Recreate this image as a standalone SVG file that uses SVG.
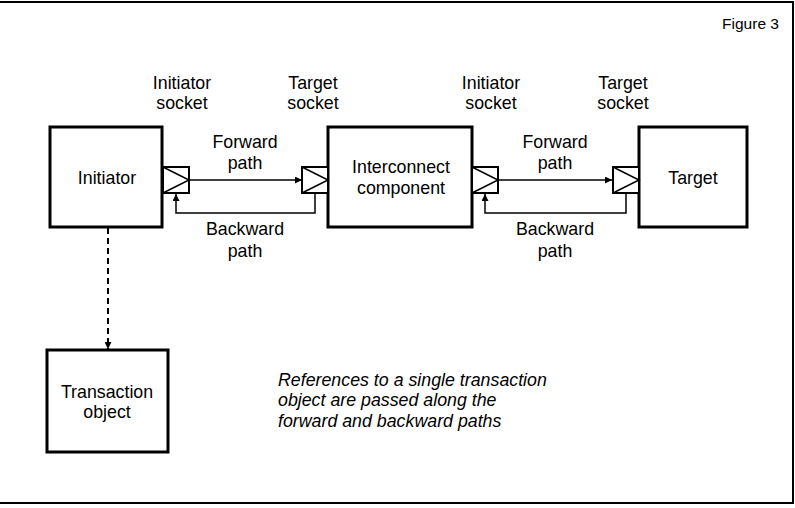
<svg xmlns="http://www.w3.org/2000/svg" width="795" height="508" viewBox="0 0 795 508">
<defs>
<style>
.box{fill:#fff;stroke:#000;stroke-width:3}
.sock{fill:#fff;stroke:#000;stroke-width:2}
.tri{fill:none;stroke:#000;stroke-width:1.5}
.ln{fill:none;stroke:#000;stroke-width:1.5}
.t{font-family:"Liberation Sans",Arial,sans-serif;font-size:17.8px;fill:#000;text-anchor:middle}
.it{font-family:"Liberation Sans",Arial,sans-serif;font-size:17.8px;font-style:italic;fill:#000}
</style>
<marker id="ah" viewBox="0 0 10 10" refX="10" refY="5" markerWidth="7" markerHeight="7" markerUnits="userSpaceOnUse" orient="auto">
<path d="M0,0 L10,5 L0,10 z" fill="#000"/>
</marker>
</defs>
<rect width="795" height="508" fill="#fff"/>
<path d="M0,2 H793 V503 H0" fill="none" stroke="#000" stroke-width="2"/>
<text x="779" y="29" font-family="Liberation Sans,Arial,sans-serif" font-size="14" text-anchor="end" textLength="57" lengthAdjust="spacingAndGlyphs">Figure 3</text>

<g id="connectors">
<path class="ln" d="M189,180 H302" marker-end="url(#ah)"/>
<path class="ln" d="M315,193 V213 H176 V194" marker-end="url(#ah)"/>
<path class="ln" d="M498,180 H612" marker-end="url(#ah)"/>
<path class="ln" d="M626,193 V213 H485 V194" marker-end="url(#ah)"/>
<path d="M108,228 V349" fill="none" stroke="#000" stroke-width="2" stroke-dasharray="6,4" marker-end="url(#ah)"/>
</g>

<g id="initiator">
<rect class="box" x="50" y="127" width="112" height="100"/>
<text class="t" x="107" y="184">Initiator</text>
</g>
<g id="interconnect">
<rect class="box" x="328" y="127" width="144" height="100"/>
<text class="t" x="401" y="173">Interconnect</text>
<text class="t" x="401" y="194">component</text>
</g>
<g id="target">
<rect class="box" x="639" y="127" width="108" height="100"/>
<text class="t" x="693" y="184">Target</text>
</g>
<g id="transaction">
<rect class="box" x="47" y="350" width="121" height="102"/>
<text class="t" x="107" y="398">Transaction</text>
<text class="t" x="107" y="418">object</text>
</g>

<g id="socket1">
<rect class="sock" x="163" y="167" width="26" height="26"/>
<path class="tri" d="M163,167 L189,180 L163,193"/>
</g>
<g id="socket2">
<rect class="sock" x="302" y="167" width="26" height="26"/>
<path class="tri" d="M302,167 L328,180 L302,193"/>
</g>
<g id="socket3">
<rect class="sock" x="472" y="167" width="26" height="26"/>
<path class="tri" d="M472,167 L498,180 L472,193"/>
</g>
<g id="socket4">
<rect class="sock" x="613" y="167" width="26" height="26"/>
<path class="tri" d="M613,167 L639,180 L613,193"/>
</g>

<g id="labels">
<text class="t" x="182" y="89">Initiator</text>
<text class="t" x="182" y="109">socket</text>
<text class="t" x="313" y="89">Target</text>
<text class="t" x="313" y="109">socket</text>
<text class="t" x="491" y="89">Initiator</text>
<text class="t" x="491" y="109">socket</text>
<text class="t" x="623" y="89">Target</text>
<text class="t" x="623" y="109">socket</text>
<text class="t" x="245" y="148">Forward</text>
<text class="t" x="245" y="169">path</text>
<text class="t" x="245" y="235">Backward</text>
<text class="t" x="245" y="257">path</text>
<text class="t" x="555" y="148">Forward</text>
<text class="t" x="555" y="169">path</text>
<text class="t" x="555" y="235">Backward</text>
<text class="t" x="555" y="257">path</text>
<text class="it" x="278" y="386">References to a single transaction</text>
<text class="it" x="278" y="406">object are passed along the</text>
<text class="it" x="278" y="427">forward and backward paths</text>
</g>
</svg>
